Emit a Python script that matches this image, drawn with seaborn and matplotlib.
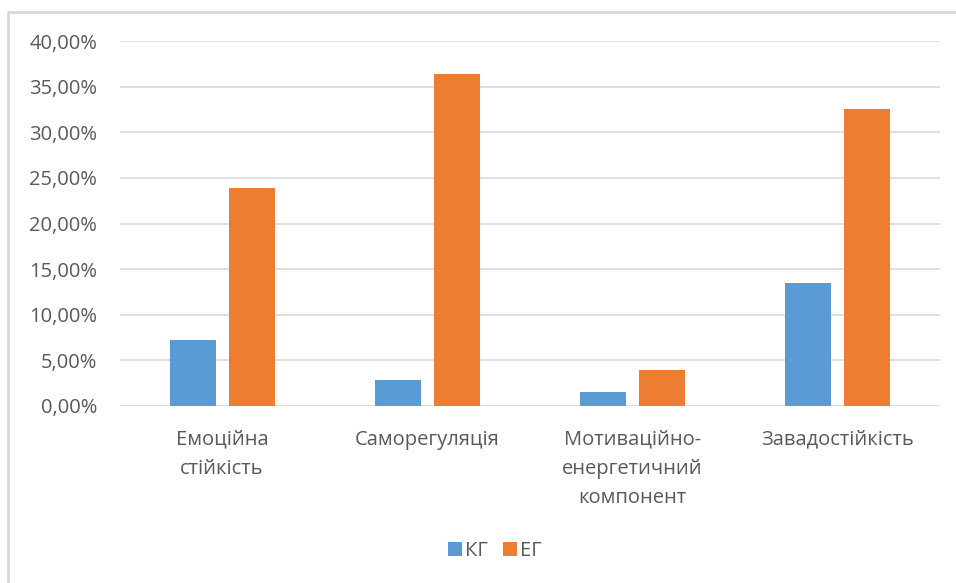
import matplotlib
matplotlib.use("Agg")
import matplotlib.pyplot as plt
import seaborn as sns
import pandas as pd
from matplotlib.patches import Rectangle, Patch
from matplotlib.ticker import FuncFormatter, MultipleLocator

categories = ["Емоційна\nстійкість", "Саморегуляція", "Мотиваційно-\nенергетичний\nкомпонент", "Завадостійкість"]
series_names = ["КГ", "ЕГ"]
kg_values = [7.19, 2.81, 1.57, 13.50]
eg_values = [23.87, 36.42, 3.94, 32.59]
colors = ["#5B9BD5", "#ED7D31"]

df = pd.DataFrame({
    "category": categories * 2,
    "group": [series_names[0]] * 4 + [series_names[1]] * 4,
    "value": kg_values + eg_values,
})

sns.set_theme(style="white")
plt.rcParams["font.family"] = ["Open Sans", "DejaVu Sans"]
text_color = "#595959"

fig = plt.figure(figsize=(9.56, 5.83), dpi=100)
W, H = 956, 583
ax = fig.add_axes([119.5 / W, (H - 406) / H, (940 - 119.5) / W, (406 - 41) / H])

sns.barplot(data=df, x="category", y="value", hue="group", palette=colors,
            width=0.575, gap=0.22, ax=ax, legend=False, linewidth=0, saturation=1)

ax.set_ylim(0, 40)
ax.set_xlim(-0.5, 3.5)
ax.yaxis.set_major_locator(MultipleLocator(5))
ax.yaxis.set_major_formatter(FuncFormatter(lambda v, p: f"{v:.2f}%".replace(".", ",")))
ax.grid(axis="y", color="#d9d9d9", linewidth=1.2)
ax.set_axisbelow(True)
for s in ax.spines.values():
    s.set_visible(False)
ax.set_xlabel("")
ax.set_ylabel("")
ax.tick_params(axis="y", length=0, pad=16, labelsize=14.5, labelcolor=text_color)
ax.tick_params(axis="x", length=0, pad=17, labelsize=14.5, labelcolor=text_color)
for lbl in ax.get_xticklabels():
    lbl.set_linespacing(1.6)
    lbl.set_verticalalignment("top")

handles = [Patch(facecolor=c, edgecolor="none") for c in colors]
fig.legend(handles, series_names, loc="center", bbox_to_anchor=(495 / W, (H - 551) / H),
           ncol=2, frameon=False, fontsize=14.5, labelcolor=text_color,
           handlelength=0.7, handleheight=0.65, handletextpad=0.15, columnspacing=0.75)

fig.patches.append(Rectangle((8 / W, -0.05), 1.1, (H - 12) / H + 0.05, transform=fig.transFigure,
                             fill=False, edgecolor="#d9d9d9", linewidth=2, zorder=0))

fig.savefig("out.png", dpi=100, facecolor="white")
